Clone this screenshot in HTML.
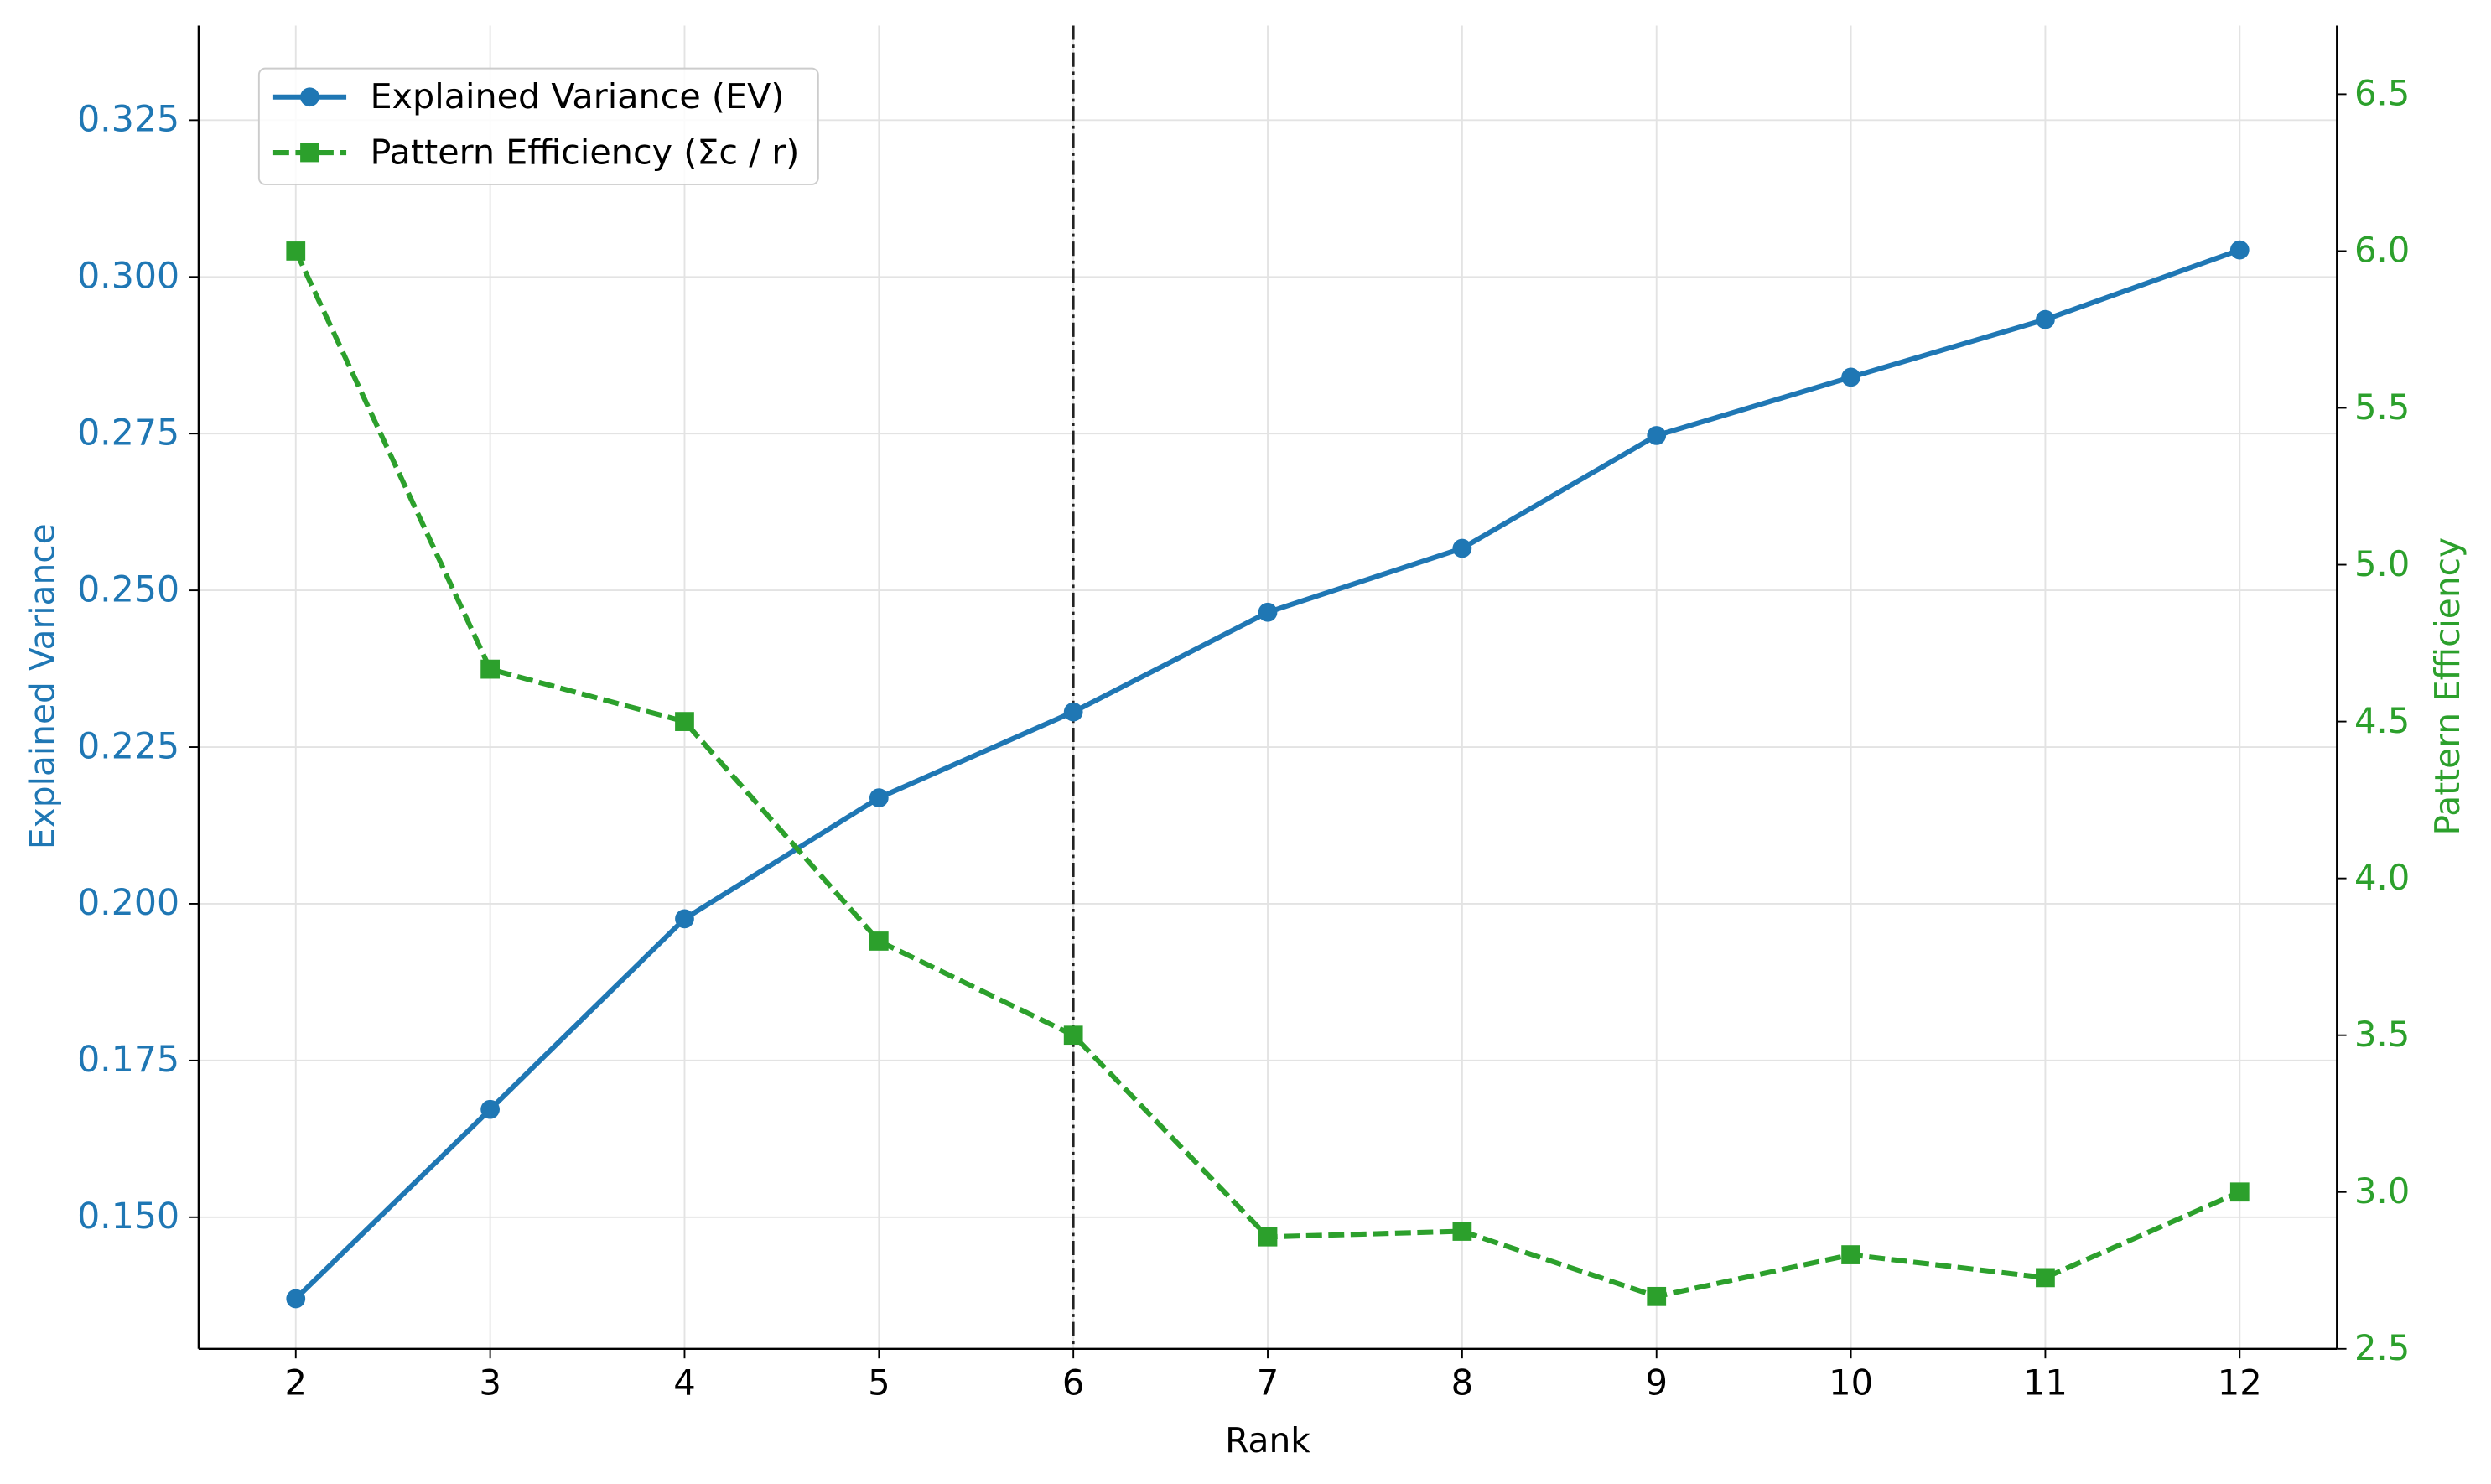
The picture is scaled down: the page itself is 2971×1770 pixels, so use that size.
<!DOCTYPE html>
<html><head><meta charset="utf-8"><style>
html,body{margin:0;padding:0;background:#fff;}
svg{display:block;font-family:"DejaVu Sans","Liberation Sans",sans-serif;}
</style></head><body>
<svg id="chart" width="2971" height="1770" viewBox="0 0 1568 934" xmlns="http://www.w3.org/2000/svg">
<g id="grid"></g>
<g id="marks"></g>
<g id="axes"></g>
<text x="798" y="914" text-anchor="middle" font-size="21.5">Rank</text>
<text transform="translate(34,432) rotate(-90)" text-anchor="middle" font-size="21.5" fill="#1f77b4">Explained Variance</text>
<text transform="translate(1548,432) rotate(-90)" text-anchor="middle" font-size="21.5" fill="#2ca02c">Pattern Efficiency</text>
<g>
<rect x="163" y="43" width="352" height="73" rx="4" fill="#fff" fill-opacity="0.85" stroke="#ccc"/>
<g>
<line x1="172" y1="61" x2="218" y2="61" stroke="#1f77b4" stroke-width="3.2"/>
<circle cx="195" cy="61" r="6" fill="#1f77b4"/>
<text x="233" y="68" font-size="21.8">Explained Variance (EV)</text></g>
<g>
<line x1="172" y1="96" x2="218" y2="96" stroke="#2ca02c" stroke-width="3.2" stroke-dasharray="10,4"/>
<rect x="189" y="90" width="12" height="12" fill="#2ca02c"/>
<text x="233" y="103" font-size="21.8">Pattern Efficiency (Σc / r)</text></g>
</g>
</svg>
<script>
const ranks=[2,3,4,5,6,7,8,9,10,11,12];
const evValues=[0.137,0.1672,0.1976,0.2169,0.2306,0.2465,0.2567,0.2747,0.2840,0.2932,0.3043];
const peValues=[6.0,4.667,4.5,3.8,3.5,2.857,2.875,2.667,2.8,2.727,3.0];
const xTicks=[2,3,4,5,6,7,8,9,10,11,12];
const leftTicks=[0.150,0.175,0.200,0.225,0.250,0.275,0.300,0.325];
const rightTicks=[2.5,3.0,3.5,4.0,4.5,5.0,5.5,6.0,6.5];
const cutoffRank=[6];
const L=125,R=1471,T=16,B=849;
const xs=v=>L+(v-1.5)/(12.5-1.5)*(R-L);
const yl=v=>B-(v-0.1290)/(0.3401-0.1290)*(B-T);
const yr=v=>B-(v-2.5)/(6.719-2.5)*(B-T);
const NS="http://www.w3.org/2000/svg";
function mk(parent,tag,attrs){const e=document.createElementNS(NS,tag);for(const k in attrs)e.setAttribute(k,attrs[k]);parent.appendChild(e);return e;}
const grid=document.getElementById('grid'),marks=document.getElementById('marks'),axes=document.getElementById('axes');
xTicks.forEach(t=>{const g=mk(grid,'line',{x1:xs(t),x2:xs(t),y1:T,y2:B,stroke:'#e3e3e3','stroke-width':1});
});
leftTicks.forEach(t=>{const g=mk(grid,'line',{x1:L,x2:R,y1:yl(t),y2:yl(t),stroke:'#e3e3e3','stroke-width':1});
});
cutoffRank.forEach(r=>{const c=mk(marks,'line',{x1:xs(r),x2:xs(r),y1:T,y2:B,stroke:'#222','stroke-width':1.5,'stroke-dasharray':'9,3,2,3'});
});
const evLine=mk(marks,'polyline',{points:ranks.map((r,i)=>xs(r)+','+yl(evValues[i])).join(' '),fill:'none',stroke:'#1f77b4','stroke-width':3.2});

const peLine=mk(marks,'polyline',{points:ranks.map((r,i)=>xs(r)+','+yr(peValues[i])).join(' '),fill:'none',stroke:'#2ca02c','stroke-width':3.2,'stroke-dasharray':'10,4'});

ranks.forEach((r,i)=>{const c=mk(marks,'circle',{cx:xs(r),cy:yl(evValues[i]),r:6,fill:'#1f77b4'});

const s=mk(marks,'rect',{x:xs(r)-6,y:yr(peValues[i])-6,width:12,height:12,fill:'#2ca02c'});
});
mk(axes,'line',{x1:L,x2:L,y1:T,y2:B,stroke:'#000','stroke-width':1.2});
mk(axes,'line',{x1:R,x2:R,y1:T,y2:B,stroke:'#000','stroke-width':1.2});
mk(axes,'line',{x1:L,x2:R,y1:B,y2:B,stroke:'#000','stroke-width':1.2});
xTicks.forEach(t=>{mk(axes,'line',{x1:xs(t),x2:xs(t),y1:B,y2:B+6,stroke:'#000','stroke-width':1});
const tx=mk(axes,'text',{x:xs(t),y:B+29,'text-anchor':'middle','font-size':22});tx.textContent=t;
});
leftTicks.forEach(t=>{mk(axes,'line',{x1:L-6,x2:L,y1:yl(t),y2:yl(t),stroke:'#000','stroke-width':1});
const tx=mk(axes,'text',{x:L-12,y:yl(t)+7,'text-anchor':'end','font-size':22.5,fill:'#1f77b4'});tx.textContent=t.toFixed(3);
});
rightTicks.forEach(t=>{mk(axes,'line',{x1:R,x2:R+6,y1:yr(t),y2:yr(t),stroke:'#000','stroke-width':1});
const tx=mk(axes,'text',{x:R+11,y:yr(t)+7,'text-anchor':'start','font-size':22,fill:'#2ca02c'});tx.textContent=t.toFixed(1);
});
</script>
</body></html>
